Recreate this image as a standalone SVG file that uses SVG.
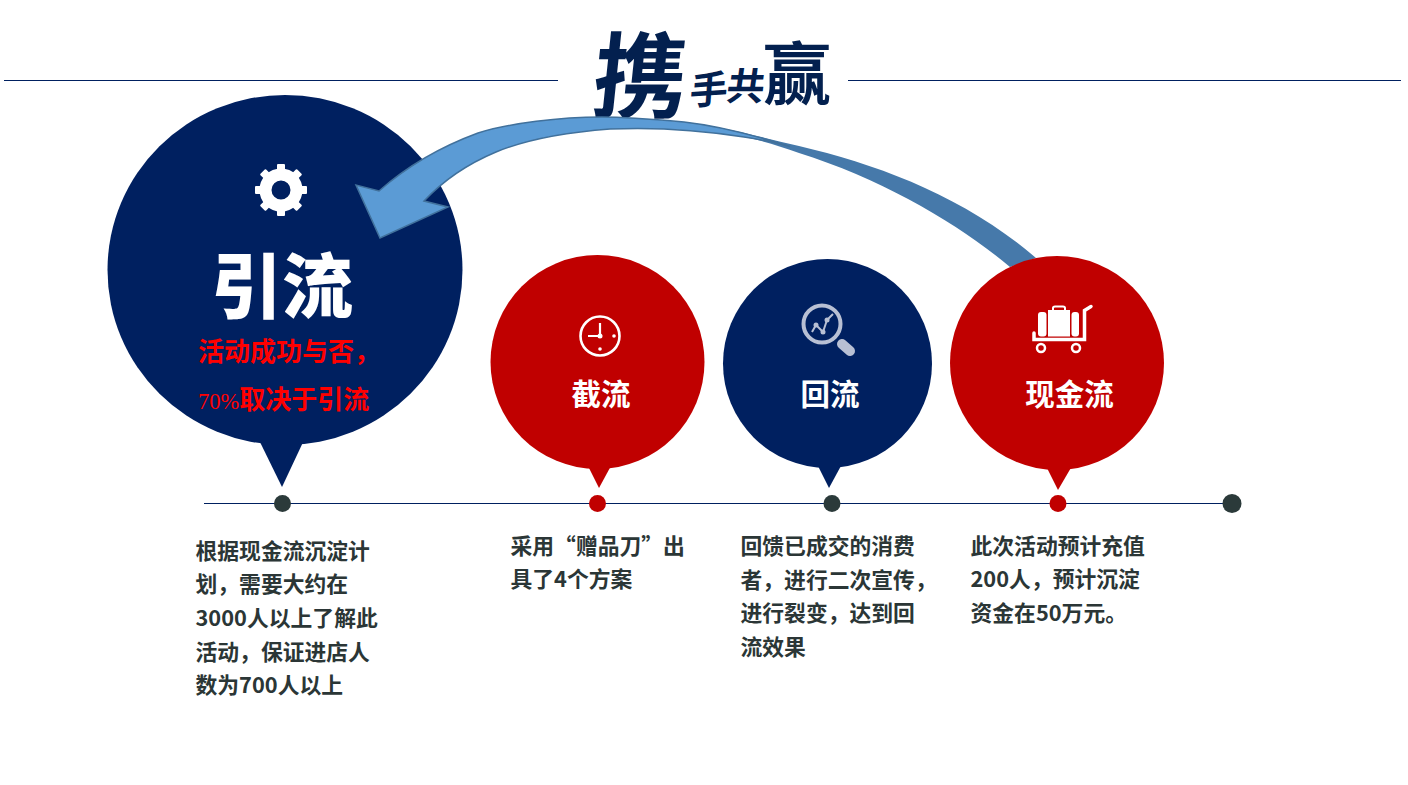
<svg xmlns="http://www.w3.org/2000/svg" width="1408" height="785" viewBox="0 0 1408 785">
<style>
text{font-family:"Noto Sans CJK SC","Noto Sans",sans-serif;font-weight:700}
.navy{fill:#002060}.red{fill:#c00000}
.body{font-size:21.800px;fill:#2b3636}
.lab{font-size:29.500px;fill:#fff;text-anchor:middle}
.sub{font-size:26px;fill:#ff0000}
.logo{fill:#03204f;font-weight:700}
.line{stroke:#002060;stroke-width:1;fill:none}
.dark{fill:#2b3a3a}
</style>
<defs>
<rect id="tooth" x="-4" y="-26" width="8" height="9" rx="1" fill="#fff"/>
</defs>
<rect width="1408" height="785" fill="#fff"/>
<g id="header">
<path class="line" d="M4 80.500H558M848 80.500H1401"/>
<g id="logo">
<text class="logo" font-size="94" transform="translate(590 111) skewX(-6)">携</text>
<text class="logo" font-size="38" transform="translate(689 105) rotate(-4) skewX(-8)">手</text>
<text class="logo" font-size="38" transform="translate(725 100) skewX(-8)">共</text>
<text class="logo" font-size="68" transform="translate(763 99)">赢</text>
</g>
</g>
<g id="node-yinliu">
<ellipse class="navy" cx="285" cy="270" rx="177.500" ry="175"/>
<path class="navy" d="M258 438L282 487L305 438Z"/>
<g transform="translate(281 190)">
<circle r="15.500" fill="none" stroke="#fff" stroke-width="12"/>
<use href="#tooth"/><use href="#tooth" transform="rotate(45)"/><use href="#tooth" transform="rotate(90)"/><use href="#tooth" transform="rotate(135)"/><use href="#tooth" transform="rotate(180)"/><use href="#tooth" transform="rotate(225)"/><use href="#tooth" transform="rotate(270)"/><use href="#tooth" transform="rotate(315)"/>
</g>
<text x="284" y="312" font-size="71" fill="#fff" text-anchor="middle" style="font-weight:900" transform="translate(-2 0)">引流</text>
<text class="sub" x="198" y="361">活动成功与否，</text>
<text class="sub" x="198" y="409"><tspan font-family="Liberation Serif" font-weight="400" font-size="22.500">70%</tspan>取决于引流</text>
</g>
<g id="connectors">
<path d="M1036 258C965 197 880 165 799 146C760 136.900 720 126 684 122L744 137C760 140 780 146 799 153C885 180 960 225 1010 267Z" fill="#4679aa"/>
<path d="M790 146.500C760 137 720 126 684 122C650 119 625 117 602 117C560 117 510 123 478 133C440 147 405 168 379 191L356 185L380 238L448 207L424 201C440 184 465 165 496 152C530 138 570 132 610 129C655 127 700 130 744 137C765 140 780 144 790 146.500Z" fill="#5b9bd5" stroke="#41719c" stroke-width="1.500" stroke-linejoin="miter"/>
</g>
<g id="node-jieliu">
<circle class="red" cx="597.500" cy="362" r="107"/>
<path class="red" d="M587 464L599 488L612 464Z"/>
<g fill="#fff">
<circle cx="600" cy="336" r="19.500" fill="none" stroke="#fff" stroke-width="2.600"/>
<path d="M600 323V336H588" fill="none" stroke="#fff" stroke-width="2.200"/>
<circle cx="600" cy="336" r="2.500"/><circle cx="614" cy="336" r="1.800"/><circle cx="600" cy="349" r="1.800"/>
</g>
<text class="lab" x="601" y="405">截流</text>
</g>
<g id="node-huiliu">
<circle class="navy" cx="827.500" cy="363.500" r="104.500"/>
<path class="navy" d="M817 464L829 488L842 464Z"/>
<g stroke="#b8c0d4" fill="none">
<circle cx="822" cy="324" r="18.500" stroke-width="4"/>
<path d="M842 344L850 351" stroke-width="10" stroke-linecap="round"/>
<path d="M812 332L816 325L823 332L827 320L833 314" stroke-width="2"/>
</g>
<g fill="#b8c0d4"><circle cx="816" cy="325" r="2.500"/><circle cx="823" cy="332" r="2.500"/><circle cx="827" cy="320" r="2.500"/></g>
<text class="lab" x="830" y="405">回流</text>
</g>
<g id="node-xianjinliu">
<circle class="red" cx="1057" cy="363" r="107"/>
<path class="red" d="M1046 466L1058 490L1072 466Z"/>
<g fill="#fff">
<rect x="1038" y="312" width="8.500" height="24.500" rx="3"/>
<rect x="1048" y="310" width="22" height="26.500"/>
<rect x="1071.500" y="312" width="7.500" height="24.500" rx="3"/>
<path d="M1053 310V308Q1053 306.500 1055 306.500H1063Q1065 306.500 1065 308V310" fill="none" stroke="#fff" stroke-width="2"/>
<path d="M1034 333V339.500H1084.500V310.500L1091 306.500" fill="none" stroke="#fff" stroke-width="3.500" stroke-linecap="round"/>
<circle cx="1041" cy="348" r="4" fill="none" stroke="#fff" stroke-width="2.500"/>
<circle cx="1076" cy="348" r="4" fill="none" stroke="#fff" stroke-width="2.500"/>
</g>
<text class="lab" x="1069.500" y="405">现金流</text>
</g>
<g id="timeline">
<path class="line" d="M204 503.500H1232"/>
<circle class="dark" cx="282.500" cy="503.500" r="8.500"/>
<circle class="red" cx="597.500" cy="503.500" r="8.500"/>
<circle class="dark" cx="832" cy="503.500" r="8.500"/>
<circle class="red" cx="1058" cy="503.500" r="8.500"/>
<circle class="dark" cx="1232" cy="503.500" r="9.500"/>
</g>
<g id="descriptions">
<text class="body" x="195.500" y="558.500">根据现金流沉淀计</text>
<text class="body" x="195.500" y="592">划，需要大约在</text>
<text class="body" x="195.500" y="625.500">3000人以上了解此</text>
<text class="body" x="195.500" y="659.500">活动，保证进店人</text>
<text class="body" x="195.500" y="692.500">数为700人以上</text>
<text class="body" x="510.500" y="553.500">采用“赠品刀”出</text>
<text class="body" x="510.500" y="587">具了4个方案</text>
<text class="body" x="740.500" y="553.500">回馈已成交的消费</text>
<text class="body" x="740.500" y="587.500">者，进行二次宣传，</text>
<text class="body" x="740.500" y="620.500">进行裂变，达到回</text>
<text class="body" x="740.500" y="654.500">流效果</text>
<text class="body" x="970.500" y="553.500">此次活动预计充值</text>
<text class="body" x="970.500" y="587">200人，预计沉淀</text>
<text class="body" x="970.500" y="620.500">资金在50万元。</text>
</g>
</svg>
